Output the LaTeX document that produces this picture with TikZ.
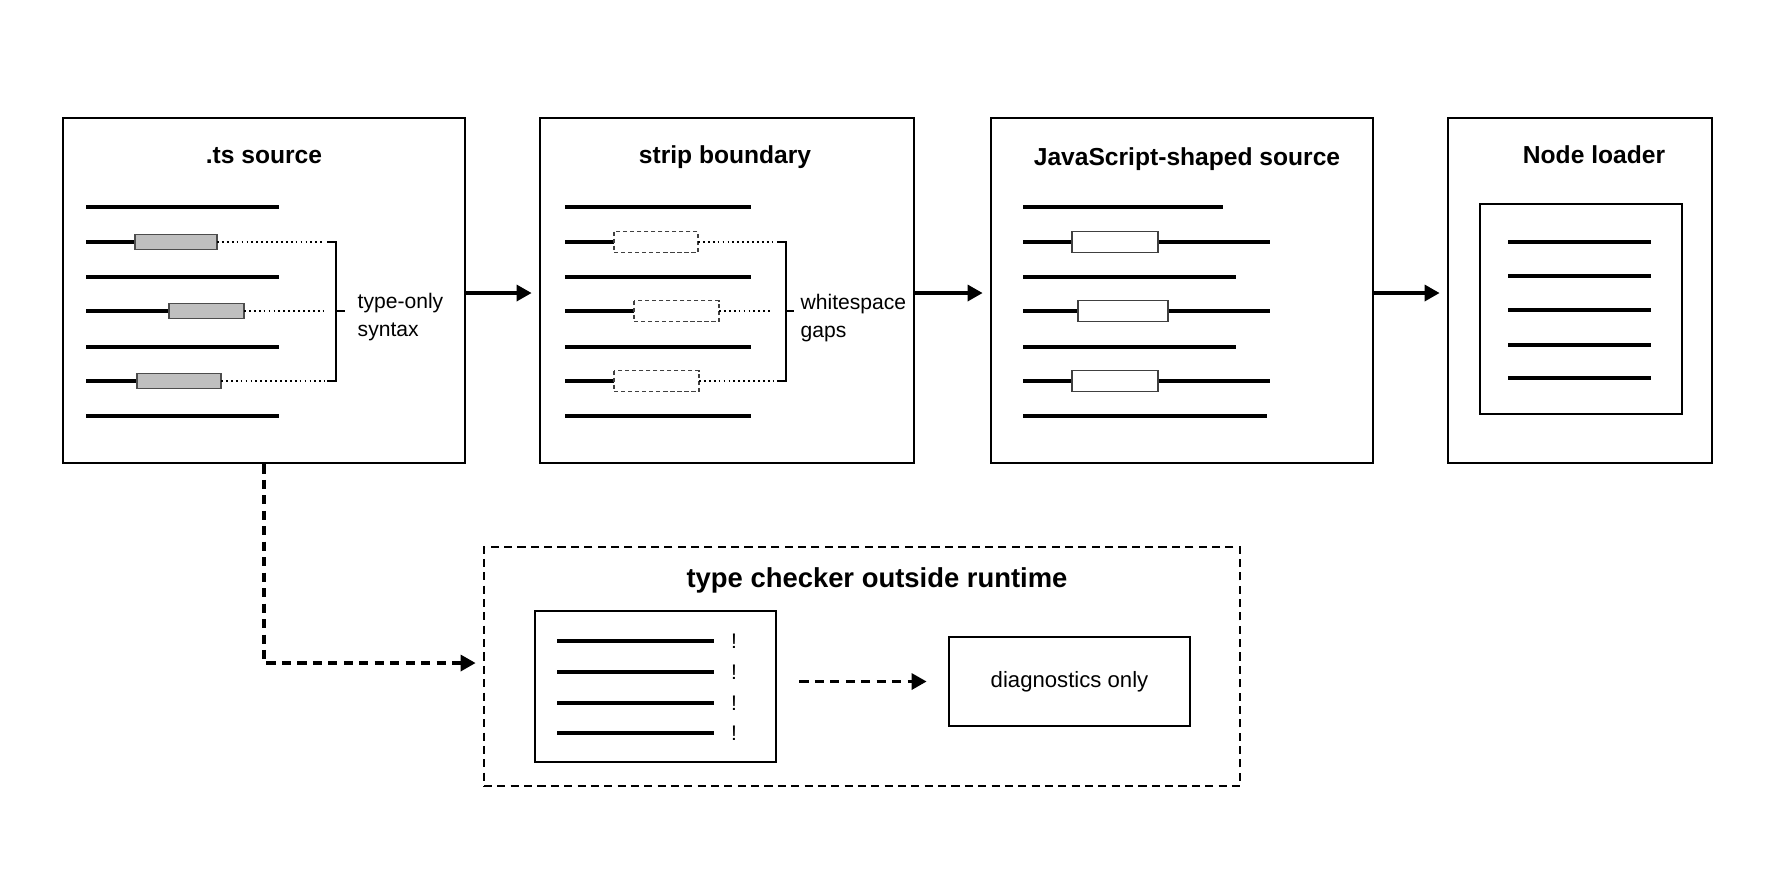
\documentclass[tikz,border=0pt]{standalone}
\usepackage{fontspec}
\setsansfont{Liberation Sans}
\usetikzlibrary{arrows.meta,positioning}

\begin{document}
\begin{tikzpicture}[
  x=0.1mm, y=-0.1mm,
  font=\sffamily,
  panel/.style={draw, line width=0.8pt, minimum width=#1, minimum height=34.5mm, inner sep=0pt},
  title/.style={anchor=base, inner sep=0pt, font=\sffamily\bfseries\fontsize{7}{8}\selectfont},
  note/.style={align=left, anchor=west, inner sep=0pt, font=\sffamily\fontsize{6}{8.2}\selectfont},
  codeline/.style={line width=1pt},
  typebox/.style={draw=black!70, fill=black!25, line width=0.4pt},
  gapbox/.style={draw=black!75, dash pattern=on 1.2pt off 0.8pt, line width=0.4pt},
  keptbox/.style={draw=black!75, fill=white, line width=0.4pt},
  hint/.style={dash pattern=on 0.5pt off 0.9pt, line width=0.5pt},
  brace/.style={line width=0.6pt},
  arrow/.style={-{Triangle[length=1.5mm,width=1.6mm]}, line width=0.95pt, shorten >=0.7mm},
  dasharrow/.style={arrow, dash pattern=on 2.6pt off 1.8pt}
]
\useasboundingbox (0,0) rectangle (1774,887);

% pipeline panels
\node[panel=40.2mm] (ts) at (264,290.5) {};
\node[panel=37.4mm] (strip) at (727,290.5) {};
\node[panel=38.2mm] (jsout) at (1182,290.5) {};
\node[panel=26.4mm] (loader) at (1580,290.5) {};

\node[title] (tstitle) at (264,163) {.ts source};
\node[title] (striptitle) at (725,163) {strip boundary};
\node[title] (jstitle) at (1187,165) {JavaScript-shaped source};
\node[title] (loadertitle) at (1594,163) {Node loader};

% .ts source lines
\foreach \y in {207,277,347,416}
  \draw[codeline] (86,\y) -- (279,\y);
\foreach \y/\a/\b in {242/135/217, 311/169/244, 381/137/221} {
  \draw[codeline] (86,\y) -- (\a,\y);
  \draw[typebox] (\a,\y-7.5) rectangle (\b,\y+7.5);
  \draw[hint] (\b,\y) -- (325,\y);
}
\draw[brace] (327,242) -- (336,242) -- (336,381) -- (327,381);
\draw[brace] (336,311) -- (345,311);
\node[note] (tsnote) at (357,317) {type-only\\syntax};

% stripped lines
\foreach \y in {207,277,347,416}
  \draw[codeline] (565,\y) -- (751,\y);
\foreach \y/\a/\b in {242/614/698, 311/634/719, 381/614/699} {
  \draw[codeline] (565,\y) -- (\a,\y);
  \draw[gapbox] (\a,\y-10.5) rectangle (\b,\y+10.5);
  \draw[hint] (\b,\y) -- (773,\y);
}
\draw[brace] (777,242) -- (786,242) -- (786,381) -- (777,381);
\draw[brace] (786,311) -- (794,311);
\node[note] (stripnote) at (800,318) {whitespace\\gaps};

% javascript-shaped lines
\foreach \y/\e in {207/1223, 277/1236, 347/1236, 416/1267}
  \draw[codeline] (1023,\y) -- (\e,\y);
\foreach \y/\a/\b in {242/1072/1158, 311/1078/1168, 381/1072/1158} {
  \draw[codeline] (1023,\y) -- (1270,\y);
  \draw[keptbox] (\a,\y-10.5) rectangle (\b,\y+10.5);
}

% loaded module
\node[draw, line width=0.8pt, minimum width=20.2mm, minimum height=21mm] (bundle) at (1581,309) {};
\foreach \y in {242,276,310,345,378}
  \draw[codeline] (1508,\y) -- (1651,\y);

\draw[arrow] ([yshift=-0.25mm]ts.east) -- ([yshift=-0.25mm]strip.west);
\draw[arrow] ([yshift=-0.25mm]strip.east) -- ([yshift=-0.25mm]jsout.west);
\draw[arrow] ([yshift=-0.25mm]jsout.east) -- ([yshift=-0.25mm]loader.west);

% checker, off the runtime path
\node[draw, line width=0.8pt, dash pattern=on 2.3pt off 1.5pt, minimum width=75.6mm, minimum height=23.9mm] (checker) at (862,666.5) {};
\node[title, font=\sffamily\bfseries\fontsize{7.8}{9}\selectfont] (checkertitle) at (877,587) {type checker outside runtime};
\node[draw, line width=0.8pt, minimum width=24.1mm, minimum height=15.1mm] (errs) at (655.5,686.5) {};
\foreach \y in {641,672,703,733} {
  \draw[codeline] (557,\y) -- (714,\y);
  \node[inner sep=0pt, font=\sffamily\fontsize{6}{7}\selectfont] (bang\y) at (734,\y) {!};
}
\node[draw, line width=0.8pt, minimum width=24.1mm, minimum height=8.9mm, font=\sffamily\fontsize{6.3}{7.5}\selectfont] (diag) at (1069.5,681.5) {diagnostics only};

\draw[dasharrow] (ts.south) |- ([yshift=0.35mm]checker.west);
\draw[dasharrow, shorten <=2.2mm, shorten >=2.1mm] (errs.east |- diag.west) -- (diag.west);

\end{tikzpicture}
\end{document}
